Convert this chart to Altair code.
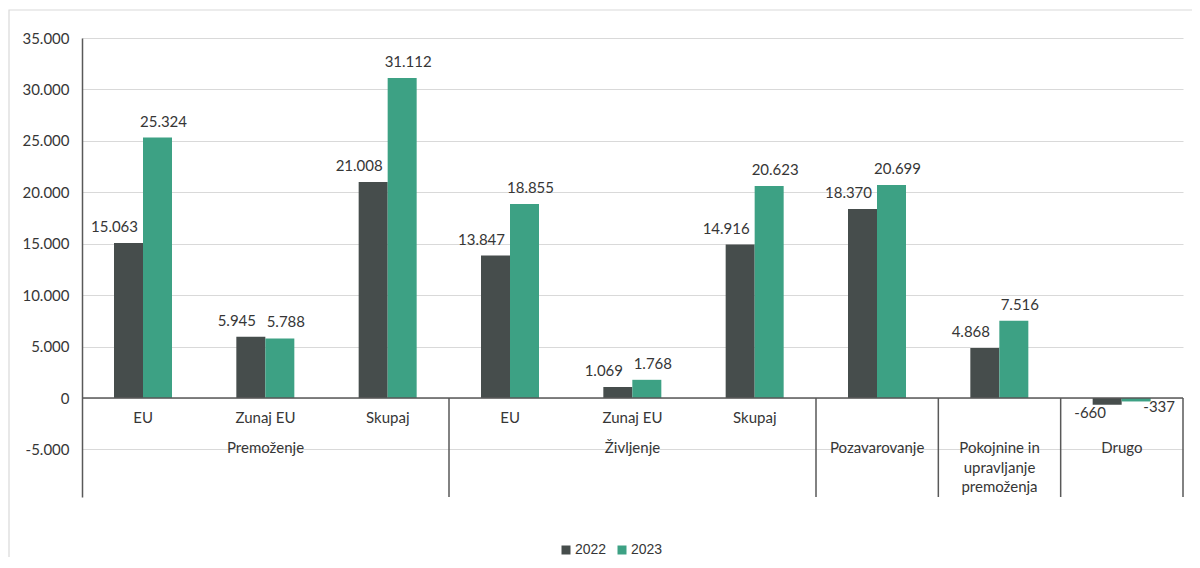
import altair as alt
import pandas as pd

# ---- data ----
slots = list(range(9))
groups = ["Premoženje", "Premoženje", "Premoženje",
          "Življenje", "Življenje", "Življenje",
          "Pozavarovanje", "Pokojnine in upravljanje premoženja", "Drugo"]
subcats = ["EU", "Zunaj EU", "Skupaj", "EU", "Zunaj EU", "Skupaj", "", "", ""]
years = ["2022", "2023"]
v2022 = [15063, 5945, 21008, 13847, 1069, 14916, 18370, 4868, -660]
v2023 = [25324, 5788, 31112, 18855, 1768, 20623, 20699, 7516, -337]

group_labels = ["Premoženje", "Življenje", "Pozavarovanje",
                "Pokojnine in\nupravljanje\npremoženja", "Drugo"]
group_mid_slots = [1, 4, 6, 7, 8]
separator_slots = [2, 5, 6, 7, 8]
y_ticks = [-5000, 0, 5000, 10000, 15000, 20000, 25000, 30000, 35000]

colors = ["#464D4C", "#3DA184"]
FONT = "Lato"
FS = 15
TXT = "#363636"
AXIS_COL = "#595959"

rows = []
for i in slots:
    rows.append({"slot": i, "year": "2022", "value": v2022[i]})
    rows.append({"slot": i, "year": "2023", "value": v2023[i]})
df = pd.DataFrame(rows)
sub_df = pd.DataFrame({"slot": slots, "label": subcats})
sub_df = sub_df[sub_df["label"] != ""]
grp_df = pd.DataFrame({"slot": group_mid_slots, "label": group_labels})
sep_df = pd.DataFrame({"slot": separator_slots})

W, H = 1101, 459

xscale = alt.Scale(domain=slots, paddingInner=0, paddingOuter=0)
xenc = alt.X("slot:O", scale=xscale, axis=None)
xoff = alt.XOffset("year:N", scale=alt.Scale(domain=years, range=[32, 90],
                                             paddingInner=0, paddingOuter=0))
yscale = alt.Scale(domain=[-9625, 35000], nice=False, zero=False)
fmt = "replace(replace(format(datum.value, ',.0f'), ',', '.'), '\u2212', '-')"

base = alt.Chart(df)

bars = base.mark_bar().encode(
    x=xenc,
    xOffset=xoff,
    y=alt.Y("value:Q", scale=yscale,
            axis=alt.Axis(values=y_ticks, labelExpr=fmt, grid=True, gridColor="#D9D9D9",
                          ticks=False, labelPadding=13, domainColor=AXIS_COL, domainWidth=1.5,
                          labelFont=FONT, labelFontSize=FS, labelColor=TXT, title=None)),
    color=alt.Color("year:N", scale=alt.Scale(domain=years, range=colors),
                    legend=alt.Legend(orient="none", legendX=477, legendY=505,
                                      direction="horizontal", title=None,
                                      symbolType="square", symbolSize=81,
                                      symbolStrokeWidth=0, labelOffset=2,
                                      columnPadding=8, padding=0,
                                      labelFont="Liberation Sans", labelFontSize=14,
                                      labelColor=TXT)),
)

zero_rule = alt.Chart(pd.DataFrame({"v": [0]})).mark_rule(color=AXIS_COL, strokeWidth=1.5).encode(
    y=alt.Y("v:Q", scale=yscale), x=alt.value(0), x2=alt.value(W))

seps = alt.Chart(sep_df).mark_rule(color=AXIS_COL, strokeWidth=1.5).encode(
    x=alt.X("slot:O", scale=xscale, axis=None, bandPosition=1),
    y=alt.datum(0), y2=alt.value(H))

sub_text = alt.Chart(sub_df).mark_text(font=FONT, fontSize=FS, color=TXT, dy=20,
                                       baseline="middle").encode(
    x=alt.X("slot:O", scale=xscale, axis=None), y=alt.datum(0), text="label:N")

grp_text = alt.Chart(grp_df).mark_text(font=FONT, fontSize=FS, color=TXT, dy=43,
                                       baseline="top", lineBreak="\n", lineHeight=19.5).encode(
    x=alt.X("slot:O", scale=xscale, axis=None), y=alt.datum(0), text="label:N")


def value_labels(year, positive, dx, dy):
    cond = "datum.value >= 0" if positive else "datum.value < 0"
    return base.transform_filter(f"datum.year == '{year}' && {cond}").transform_calculate(
        lbl=fmt).mark_text(font=FONT, fontSize=FS, color=TXT, dx=dx, dy=dy,
                           baseline="middle").encode(
        x=xenc,
        xOffset=xoff,
        y=alt.Y("value:Q", scale=yscale),
        text="lbl:N")


labels = [
    value_labels("2022", True, -14, -16),
    value_labels("2023", True, 6, -16),
    value_labels("2022", False, -17, 8),
    value_labels("2023", False, 23, 6),
]

border = alt.Chart(pd.DataFrame({"b": [1]})).mark_rect(
    fill="#FFFFFF", fillOpacity=0, stroke="#D9D9D9", strokeWidth=1.2).encode(
    x=alt.value(-73), x2=alt.value(1300), y=alt.value(-28), y2=alt.value(700))

chart = alt.layer(border, bars, zero_rule, seps, sub_text, grp_text, *labels).properties(
    width=W, height=H,
    padding={"left": 74, "top": 30, "right": 9, "bottom": 60},
    autosize=alt.AutoSizeParams(type="none"),
).configure_view(strokeWidth=0)

chart.save("out.html", embed_options={"renderer": "svg", "actions": False})
